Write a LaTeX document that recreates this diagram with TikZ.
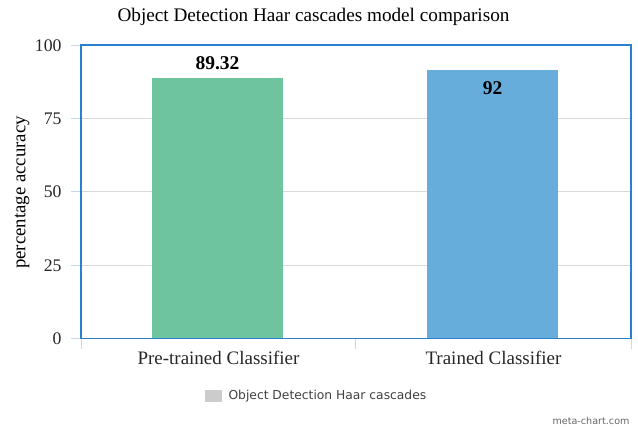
\documentclass[tikz,border=0pt]{standalone}
\usepackage{fontspec}
\setmainfont{Liberation Serif}
\newfontfamily\legfont{DejaVu Sans}
\definecolor{barG}{HTML}{6EC49E}
\definecolor{barB}{HTML}{66ADDC}
\definecolor{frameB}{HTML}{2A7FCF}
\definecolor{gridC}{HTML}{D9D9D9}
\definecolor{tickC}{HTML}{C8D8EA}
\begin{document}
\begin{tikzpicture}[x=1pt,y=-1pt,
  ticklab/.style={anchor=east,font=\fontsize{17.7}{19}\selectfont,text=black!85},
  catlab/.style={anchor=center,font=\fontsize{19}{21}\selectfont,text=black!85},
  vallab/.style={anchor=center,font=\fontsize{19.5}{21}\selectfont\bfseries},
  gridline/.style={draw=gridC,line width=1pt},
  bar/.style={draw=none}]
\useasboundingbox (0,0) rectangle (638,427);
% title
\node[anchor=center,font=\fontsize{19.2}{21}\selectfont] (title) at (313.5,17) {Object Detection Haar cascades model comparison};
% gridlines
\foreach \v/\y in {75/118.75,50/192,25/265.25}{
  \draw[gridline] (81,\y) -- (631,\y);
  \draw[draw=tickC,line width=1pt] (71,\y) -- (81,\y);
  \node[ticklab] at (65,\y) {\v};
}
\draw[draw=tickC,line width=1pt] (71,45.5) -- (81,45.5);
\node[ticklab] at (65,45.5) {100};
\draw[draw=tickC,line width=1pt] (71,338.5) -- (81,338.5);
\node[ticklab] at (65,338.5) {0};
% bars
\fill[barG] (152,78) rectangle (283,338.5);
\fill[barB] (427,70.5) rectangle (558,338.5);
% frame
\draw[frameB,line width=1.6pt] (81,45) rectangle (631,338.5);
% x ticks
\foreach \x in {81,355,631}{
  \draw[draw=tickC,line width=1pt] (\x,339.5) -- (\x,349);
}
% value labels
\node[vallab] (v1) at (217.5,63) {89.32};
\node[vallab] (v2) at (492.5,88) {92};
% category labels
\node[catlab] (c1) at (218.5,358) {Pre-trained Classifier};
\node[catlab] (c2) at (493.5,358) {Trained Classifier};
% y axis label
\node[rotate=90,anchor=center,font=\fontsize{18.8}{21}\selectfont] (ylab) at (22,192.5) {percentage accuracy};
% legend
\fill[black!20] (205,390) rectangle (222,402);
\node[anchor=west,font=\legfont\fontsize{12.3}{14}\selectfont,text=black!75] (leg) at (225,396.5) {Object Detection Haar cascades};
\node[anchor=east,font=\legfont\fontsize{9.6}{11}\selectfont,text=black!60] (mc) at (633,421) {meta-chart.com};
\end{tikzpicture}
\end{document}
